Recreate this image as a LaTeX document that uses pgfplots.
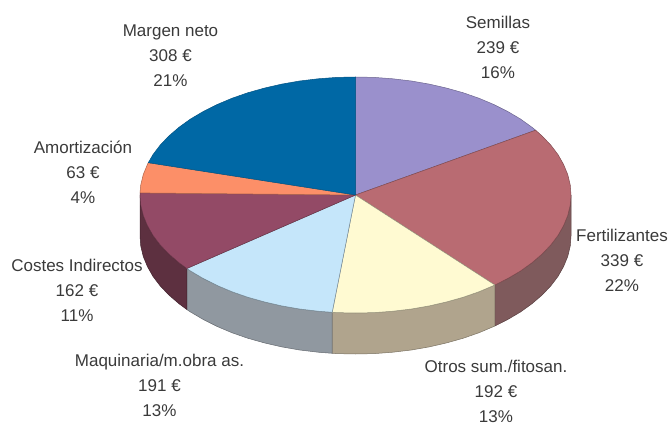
\documentclass[border=0pt]{standalone}
\usepackage{fontspec}
\setmainfont{Liberation Sans}
\usepackage{pgfplots}
\pgfplotsset{compat=1.18}
\definecolor{margen}{HTML}{0068A5}
\definecolor{semillas}{HTML}{9A90CC}
\definecolor{fert}{HTML}{B96B72}
\definecolor{otros}{HTML}{FFFAD2}
\definecolor{maq}{HTML}{C5E6FA}
\definecolor{costes}{HTML}{934A66}
\definecolor{amort}{HTML}{FC8F68}
\definecolor{fertside}{HTML}{7F5A5C}
\definecolor{otrosside}{HTML}{B0A48D}
\definecolor{maqside}{HTML}{9098A0}
\definecolor{costesside}{HTML}{5D3040}
\definecolor{txt}{HTML}{3A3A3A}
\tikzset{lbl/.style={font=\fontsize{17}{25}\selectfont, align=center, text=txt, inner sep=0pt}}
\begin{document}
\begin{tikzpicture}
\path[use as bounding box] (0,0) rectangle (669pt,425pt);
\begin{axis}[
  scale only axis, width=669pt, height=425pt,
  xmin=0, xmax=669, ymin=0, ymax=425,
  y dir=reverse, hide axis, clip=false,
  every axis plot/.append style={line width=0.5pt, line join=round, mark=none},
]
% sides
\addplot[fill=fertside, draw=fertside!70!black] coordinates {
  (571,195)(570.2,205.3)(567.7,215.5)(563.6,225.5)(558,235.4)(550.8,244.9)(542.1,254)(532,262.7)(520.6,270.9)(507.9,278.4)(494.9,285)
  (494.9,326)(507.9,319.4)(520.6,311.9)(532,303.7)(542.1,295)(550.8,285.9)(558,276.4)(563.6,266.5)(567.7,256.5)(570.2,246.3)(571,236)(571,195)};
\addplot[fill=otrosside, draw=otrosside!70!black] coordinates {
  (494.9,285)(479.1,291.7)(463.3,297.2)(446.6,301.9)(429.2,305.9)(411.3,309)(392.9,311.2)(374.3,312.6)(355.5,313)(336.7,312.6)(332.2,312.3)
  (332.2,353.3)(336.7,353.6)(355.5,354)(374.3,353.6)(392.9,352.2)(411.3,350)(429.2,346.9)(446.6,342.9)(463.3,338.2)(479.1,332.7)(494.9,326)(494.9,285)};
\addplot[fill=maqside, draw=maqside!70!black] coordinates {
  (332.2,312.3)(318.1,311.2)(299.7,309)(281.8,305.9)(264.4,301.9)(247.7,297.2)(231.9,291.7)(217,285.4)(203.1,278.4)(190.4,270.9)(186.8,268.5)
  (186.8,309.5)(190.4,311.9)(203.1,319.4)(217,326.4)(231.9,332.7)(247.7,338.2)(264.4,342.9)(281.8,346.9)(299.7,350)(318.1,352.2)(332.2,353.3)(332.2,312.3)};
\addplot[fill=costesside, draw=costesside!70!black] coordinates {
  (186.8,268.5)(179,262.7)(168.9,254)(160.2,244.9)(153,235.4)(147.4,225.5)(143.3,215.5)(140.8,205.3)(140,195)
  (140,236)(140.8,246.3)(143.3,256.5)(147.4,266.5)(153,276.4)(160.2,285.9)(168.9,295)(179,303.7)(186.8,309.5)(186.8,268.5)};
% top of the pie
\addplot[fill=semillas, draw=semillas!70!black] coordinates {
  (355.5,195)(355.5,77)(374.3,77.4)(392.9,78.8)(411.3,81)(429.2,84.1)(446.6,88.1)(463.3,92.8)(479.1,98.3)(494,104.6)(507.9,111.6)(520.6,119.1)(532,127.3)(535.6,130.2)(355.5,195)};
\addplot[fill=fert, draw=fert!70!black] coordinates {
  (355.5,195)(535.6,130.2)(542.1,136)(550.8,145.1)(558,154.6)(563.6,164.5)(567.7,174.5)(570.2,184.7)(571,195)(570.2,205.3)(567.7,215.5)(563.6,225.5)(558,235.4)(550.8,244.9)(542.1,254)(532,262.7)(520.6,270.9)(507.9,278.4)(494.9,285)(355.5,195)};
\addplot[fill=otros, draw=otros!60!black] coordinates {
  (355.5,195)(494.9,285)(479.1,291.7)(463.3,297.2)(446.6,301.9)(429.2,305.9)(411.3,309)(392.9,311.2)(374.3,312.6)(355.5,313)(336.7,312.6)(332.2,312.3)(355.5,195)};
\addplot[fill=maq, draw=maq!60!black] coordinates {
  (355.5,195)(332.2,312.3)(318.1,311.2)(299.7,309)(281.8,305.9)(264.4,301.9)(247.7,297.2)(231.9,291.7)(217,285.4)(203.1,278.4)(190.4,270.9)(186.8,268.5)(355.5,195)};
\addplot[fill=costes, draw=costes!70!black] coordinates {
  (355.5,195)(186.8,268.5)(179,262.7)(168.9,254)(160.2,244.9)(153,235.4)(147.4,225.5)(143.3,215.5)(140.8,205.3)(140,195)(140,192.9)(355.5,195)};
\addplot[fill=amort, draw=amort!70!black] coordinates {
  (355.5,195)(140,192.9)(140.8,184.7)(143.3,174.5)(147.4,164.5)(148.3,162.7)(355.5,195)};
\addplot[fill=margen, draw=margen!80!black] coordinates {
  (355.5,195)(148.3,162.7)(153,154.6)(160.2,145.1)(168.9,136)(179,127.3)(190.4,119.1)(203.1,111.6)(217,104.6)(231.9,98.3)(247.7,92.8)(264.4,88.1)(281.8,84.1)(299.7,81)(318.1,78.8)(336.7,77.4)(355.5,77)(355.5,195)};
% labels
\node[lbl] at (axis cs:170.5,55.5) {Margen neto\\308 €\\21\%};
\node[lbl] at (axis cs:498,47) {Semillas\\239 €\\16\%};
\node[lbl] at (axis cs:83,172) {Amortización\\63 €\\4\%};
\node[lbl] at (axis cs:77,290.5) {Costes Indirectos\\162 €\\11\%};
\node[lbl] at (axis cs:622,260) {Fertilizantes\\339 €\\22\%};
\node[lbl] at (axis cs:159.5,385) {Maquinaria/m.obra as.\\191 €\\13\%};
\node[lbl] at (axis cs:496,391) {Otros sum./fitosan.\\192 €\\13\%};
\end{axis}
\end{tikzpicture}
\end{document}
